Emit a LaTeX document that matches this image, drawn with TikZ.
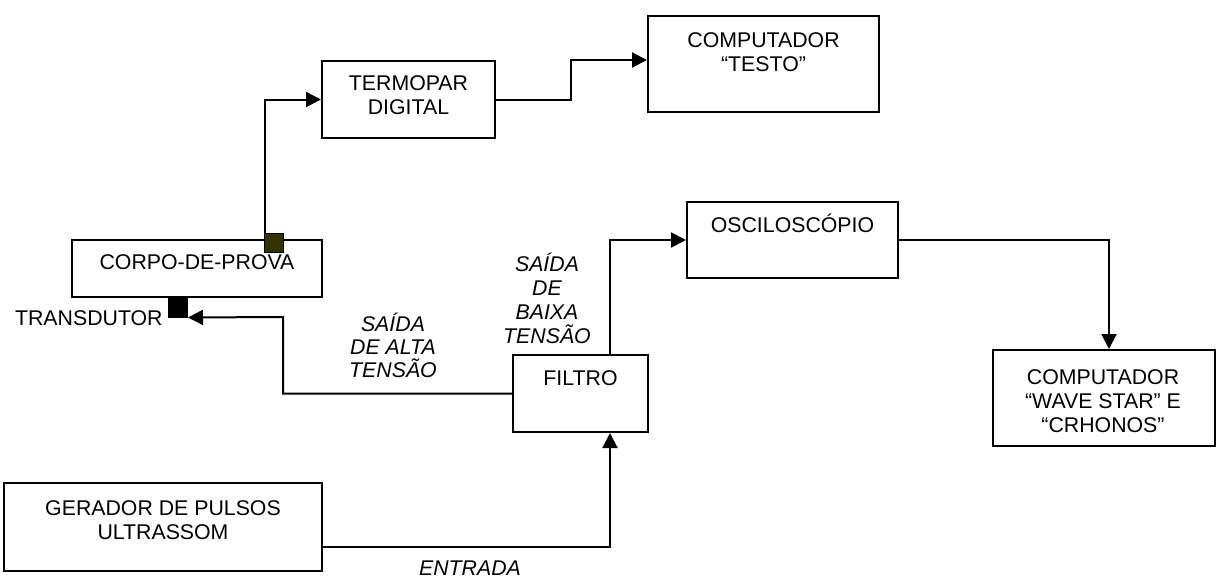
\documentclass[tikz,border=0pt]{standalone}
\usepackage{fontspec}
\setmainfont{Liberation Sans}
\usetikzlibrary{arrows.meta}
\definecolor{olivedark}{RGB}{51,51,0}
\begin{document}
\begin{tikzpicture}[x=0.5pt,y=-0.5pt,
  box/.style={draw,line width=1pt,inner sep=0pt},
  txt/.style={font=\fontsize{10.65}{12}\selectfont,align=center,inner sep=0pt},
  lbl/.style={font=\fontsize{10.65}{12}\selectfont\itshape,align=center,inner sep=0pt},
  conn/.style={line width=1pt},
  arr/.style={conn,-{Triangle[length=7.5pt,width=7.5pt]}},
  sq/.style={draw,line width=0.5pt,minimum size=9.5pt,inner sep=0pt}]
\useasboundingbox (0,0) rectangle (1217,578);

% boxes
\node[box,minimum width=86.5pt,minimum height=38.5pt] (termopar) at (408.5,99.5) {};
\node[txt] (termoparT) at (408.5,95.5) {TERMOPAR\\DIGITAL};
\node[box,minimum width=115.5pt,minimum height=48pt] (testo) at (763.5,64) {};
\node[txt] (testoT) at (763.5,52) {COMPUTADOR\\“TESTO”};
\node[box,minimum width=125pt,minimum height=28.5pt] (corpo) at (197,268.5) {};
\node[txt,anchor=base] (corpoT) at (197,269.6) {CORPO-DE-PROVA};
\node[box,minimum width=67.5pt,minimum height=38.5pt] (filtro) at (580.5,393.5) {};
\node[txt,anchor=base] (filtroT) at (580.5,385.6) {FILTRO};
\node[box,minimum width=105.5pt,minimum height=38pt] (osc) at (792.5,240) {};
\node[txt,anchor=base] (oscT) at (792.5,232.6) {OSCILOSCÓPIO};
\node[box,minimum width=111pt,minimum height=48pt] (ws) at (1104,398) {};
\node[txt] (wsT) at (1103,401) {COMPUTADOR\\“WAVE STAR” E\\“CRHONOS”};
\node[box,minimum width=159pt,minimum height=44pt] (gerador) at (163,527) {};
\node[txt] (geradorT) at (163,520.5) {GERADOR DE PULSOS\\ULTRASSOM};

% sensors
\node[sq,fill=olivedark] (sensor) at (273.5,242.5) {};
\node[sq,fill=black] (transd) at (178,307.5) {};
\node[txt,anchor=base east] (transdT) at (163,325.6) {TRANSDUTOR};

% labels
\node[lbl,font=\fontsize{10.65}{11.5}\selectfont\itshape] (alta) at (393,345) {SAÍDA\\DE ALTA\\TENSÃO};
\node[lbl] (baixa) at (547,298.5) {SAÍDA\\DE\\BAIXA\\TENSÃO};
\node[lbl,anchor=base] (entrada) at (470,575) {ENTRADA};

% connectors
\coordinate (p1) at (264.5,0);
\draw[arr] (p1 |- sensor.north) |- (termopar.west);
\coordinate (p2) at (571,60);
\draw[arr] (termopar.east) -| (p2) -- (p2 -| testo.west);
\coordinate (p3) at (283,317);
\draw[arr] (filtro.west) -| (p3) -- (transd.south east);
\coordinate (p4) at (610,0);
\draw[arr] (p4 |- filtro.north) |- (osc.west);
\coordinate (p5) at (322,546.5);
\draw[arr] (p5) -| (p4 |- filtro.south);
\coordinate (p6) at (1109,0);
\draw[arr] (osc.east) -| (p6 |- ws.north);
\end{tikzpicture}
\end{document}
